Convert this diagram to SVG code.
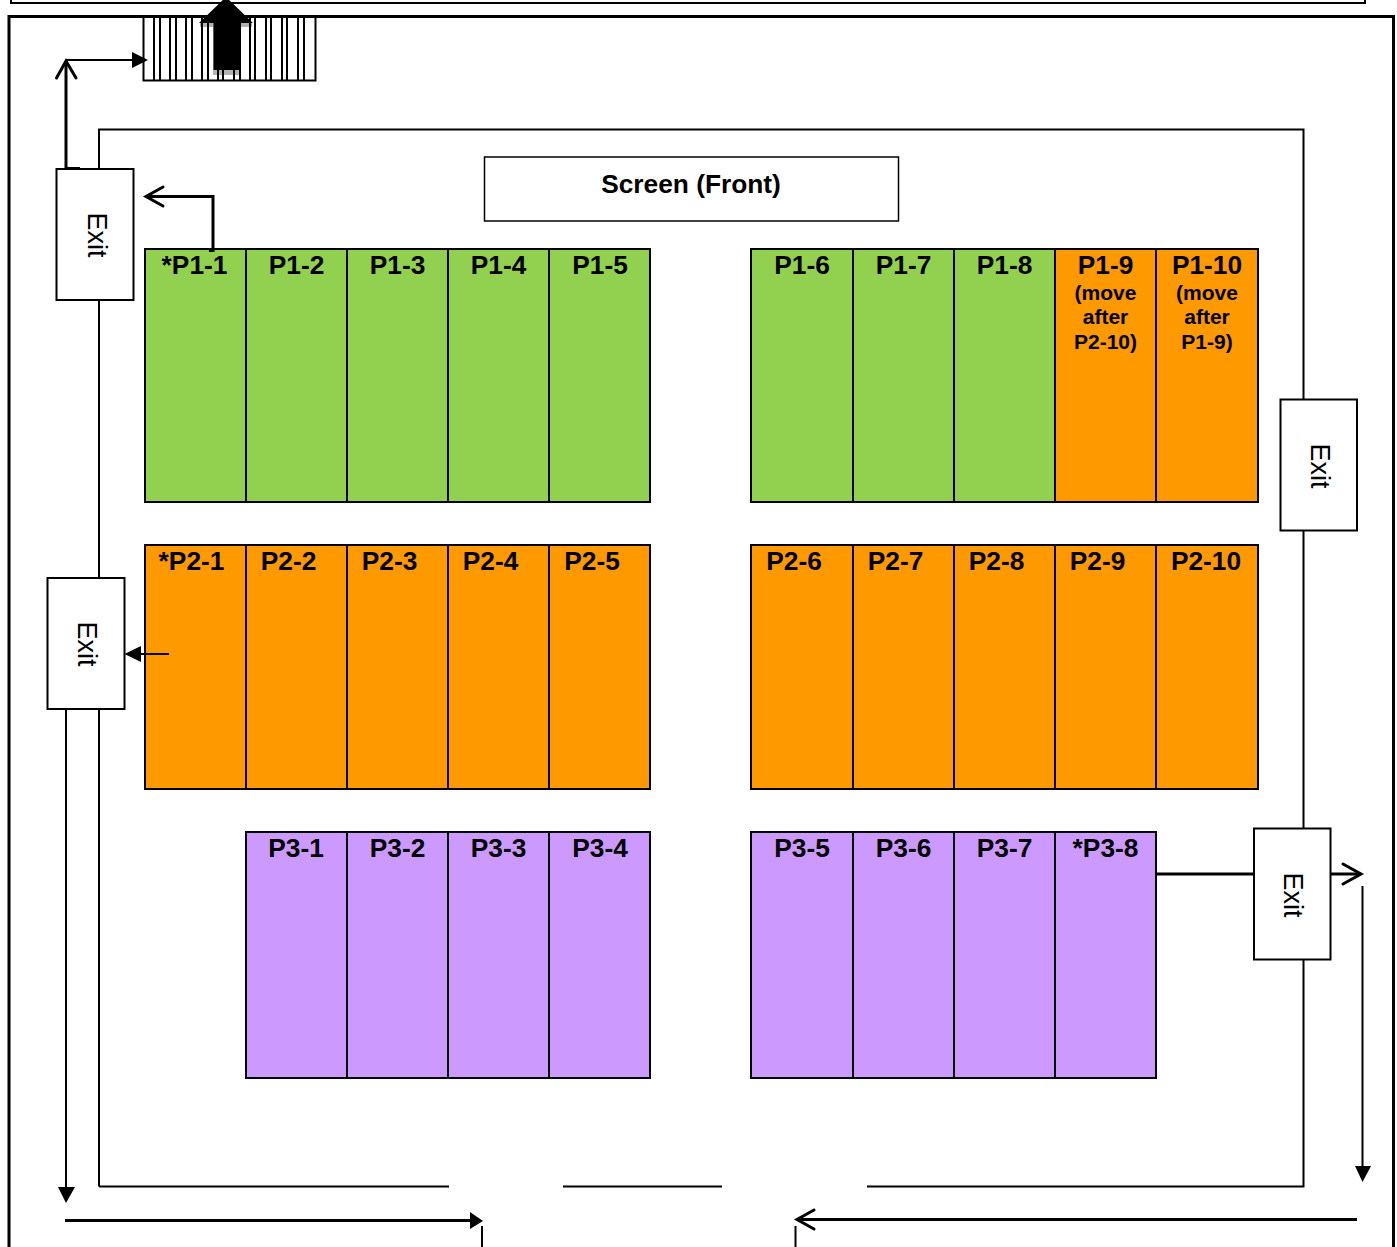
<svg xmlns="http://www.w3.org/2000/svg" width="1397" height="1247" viewBox="0 0 1397 1247">
<style>
text{font-family:"Liberation Sans",Arial,sans-serif;fill:#000;text-anchor:middle}
.c{stroke:#000;stroke-width:2}
.g{fill:#92d050}.o{fill:#ff9900}.p{fill:#cc99ff}
.l{font-size:26.300px;font-weight:bold}
.s{font-size:21px;font-weight:bold}
.x{font-size:27px}
.b{fill:#fff;stroke:#000;stroke-width:2}
.w{fill:none;stroke:#000;stroke-width:2}
.t{fill:none;stroke:#000;stroke-width:3}
.a{fill:#000;stroke:none}
</style>
<rect width="1397" height="1247" fill="#fff"/>
<g id="walls">
<path class="w" d="M11 -2V3H1365V-2"/>
<path class="t" d="M9 1247V16.500H1393.500V1247"/>
<path class="w" d="M99 1186.500H449M563 1186.500H722M867 1186.500H1303.500V129.500H99V1186.500"/>
<path class="w" d="M482 1226V1247M795.500 1226V1247"/>
</g>
<g id="stairs">
<rect x="143.500" y="17" width="172" height="63.500" fill="#fff" stroke="#000" stroke-width="2"/>
<path class="w" d="M154 17V80M160 17V80M170 17V80M176 17V80M186 17V80M192 17V80M202 17V80M208 17V80M218 17V80M223 17V80M234 17V80M240 17V80M250 17V80M255 17V80M266 17V80M271 17V80M282 17V80M287 17V80M298 17V80M304 17V80"/>
<path fill="#000" fill-opacity=".3" d="M213 75V27H200V22H252V27H241V75Z"/>
<path class="a" d="M213.500 70V23H199L226 -3 253 23H239.500V70Z"/>
</g>
<g id="screen"><rect x="484.500" y="157" width="414" height="64" fill="#fff" stroke="#000" stroke-width="1.500"/><text class="l" x="691" y="193">Screen (Front)</text></g>
<g id="exit1"><rect class="b" x="56.500" y="169" width="77" height="131"/><text class="x" transform="translate(88 235) rotate(90)">Exit</text></g>
<g id="exit2"><rect class="b" x="47.500" y="578" width="77" height="131"/><text class="x" transform="translate(78 644) rotate(90)">Exit</text></g>
<g id="exit3"><rect class="b" x="1280.500" y="399.500" width="76.500" height="131"/><text class="x" transform="translate(1311 466) rotate(90)">Exit</text></g>
<g id="exit4"><rect class="b" x="1254" y="828.500" width="76.500" height="131"/><text class="x" transform="translate(1284 895) rotate(90)">Exit</text></g>
<g id="cell-P1-1"><rect class="g c" x="145" y="249" width="101" height="253"/><text class="l" x="194.500" y="274">*P1-1</text></g>
<g id="cell-P1-2"><rect class="g c" x="246" y="249" width="101" height="253"/><text class="l" x="296.500" y="274">P1-2</text></g>
<g id="cell-P1-3"><rect class="g c" x="347" y="249" width="101" height="253"/><text class="l" x="397.500" y="274">P1-3</text></g>
<g id="cell-P1-4"><rect class="g c" x="448" y="249" width="101" height="253"/><text class="l" x="498.500" y="274">P1-4</text></g>
<g id="cell-P1-5"><rect class="g c" x="549" y="249" width="101" height="253"/><text class="l" x="600" y="274">P1-5</text></g>
<g id="cell-P1-6"><rect class="g c" x="751" y="249" width="102" height="253"/><text class="l" x="802" y="274">P1-6</text></g>
<g id="cell-P1-7"><rect class="g c" x="853" y="249" width="101" height="253"/><text class="l" x="903.500" y="274">P1-7</text></g>
<g id="cell-P1-8"><rect class="g c" x="954" y="249" width="101" height="253"/><text class="l" x="1004.500" y="274">P1-8</text></g>
<g id="cell-P1-9"><rect class="o c" x="1055" y="249" width="101" height="253"/><text class="l" x="1105.500" y="274">P1-9</text><text class="s" x="1105.500" y="300">(move</text><text class="s" x="1105.500" y="324">after</text><text class="s" x="1105.500" y="349">P2-10)</text></g>
<g id="cell-P1-10"><rect class="o c" x="1156" y="249" width="102" height="253"/><text class="l" x="1207" y="274">P1-10</text><text class="s" x="1207" y="300">(move</text><text class="s" x="1207" y="324">after</text><text class="s" x="1207" y="349">P1-9)</text></g>
<g id="cell-P2-1"><rect class="o c" x="145" y="545" width="101" height="244"/><text class="l" x="191.500" y="570">*P2-1</text></g>
<g id="cell-P2-2"><rect class="o c" x="246" y="545" width="101" height="244"/><text class="l" x="288.500" y="570">P2-2</text></g>
<g id="cell-P2-3"><rect class="o c" x="347" y="545" width="101" height="244"/><text class="l" x="389.500" y="570">P2-3</text></g>
<g id="cell-P2-4"><rect class="o c" x="448" y="545" width="101" height="244"/><text class="l" x="490.500" y="570">P2-4</text></g>
<g id="cell-P2-5"><rect class="o c" x="549" y="545" width="101" height="244"/><text class="l" x="592" y="570">P2-5</text></g>
<g id="cell-P2-6"><rect class="o c" x="751" y="545" width="102" height="244"/><text class="l" x="794" y="570">P2-6</text></g>
<g id="cell-P2-7"><rect class="o c" x="853" y="545" width="101" height="244"/><text class="l" x="895.500" y="570">P2-7</text></g>
<g id="cell-P2-8"><rect class="o c" x="954" y="545" width="101" height="244"/><text class="l" x="996.500" y="570">P2-8</text></g>
<g id="cell-P2-9"><rect class="o c" x="1055" y="545" width="101" height="244"/><text class="l" x="1097.500" y="570">P2-9</text></g>
<g id="cell-P2-10"><rect class="o c" x="1156" y="545" width="102" height="244"/><text class="l" x="1206" y="570">P2-10</text></g>
<g id="cell-P3-1"><rect class="p c" x="246" y="832" width="101" height="246"/><text class="l" x="296" y="857">P3-1</text></g>
<g id="cell-P3-2"><rect class="p c" x="347" y="832" width="101" height="246"/><text class="l" x="397.500" y="857">P3-2</text></g>
<g id="cell-P3-3"><rect class="p c" x="448" y="832" width="101" height="246"/><text class="l" x="498.500" y="857">P3-3</text></g>
<g id="cell-P3-4"><rect class="p c" x="549" y="832" width="101" height="246"/><text class="l" x="600" y="857">P3-4</text></g>
<g id="cell-P3-5"><rect class="p c" x="751" y="832" width="102" height="246"/><text class="l" x="802" y="857">P3-5</text></g>
<g id="cell-P3-6"><rect class="p c" x="853" y="832" width="101" height="246"/><text class="l" x="903.500" y="857">P3-6</text></g>
<g id="cell-P3-7"><rect class="p c" x="954" y="832" width="101" height="246"/><text class="l" x="1004.500" y="857">P3-7</text></g>
<g id="cell-P3-8"><rect class="p c" x="1055" y="832" width="101" height="246"/><text class="l" x="1105.500" y="857">*P3-8</text></g>
<g id="connectors">
<path class="t" d="M66 168V61"/>
<path class="w" d="M66 168H80"/>
<path class="t" stroke-linecap="round" d="M56.500 78L66 61 76 78"/>
<path class="w" d="M66 60H135"/>
<path class="a" d="M132 52L148 60 132 68Z"/>
<path class="t" d="M213 252V196.500H147"/>
<path class="w" d="M209 251H214"/>
<path class="t" stroke-linecap="round" d="M163 187L146 196.500 163 206"/>
<path class="w" d="M169 654H135"/>
<path class="a" d="M141 646L124.500 654 141 662Z"/>
<path class="w" d="M66 709V1190"/>
<path class="a" d="M58 1187H75L66 1203Z"/>
<path class="t" d="M65 1220.500H472"/>
<path class="a" d="M470 1212L483 1221 470 1229Z"/>
<path class="t" d="M1357 1219.500H798"/>
<path class="t" stroke-linecap="round" d="M814 1210L797 1219.500 814 1229"/>
<path class="t" d="M1157 874H1254M1331 874H1361"/>
<path class="t" stroke-linecap="round" d="M1343 864L1361 874 1343 884"/>
<path class="w" d="M1362.500 886V1170"/>
<path class="a" d="M1355 1166H1371L1362.500 1182Z"/>
</g>
</svg>
